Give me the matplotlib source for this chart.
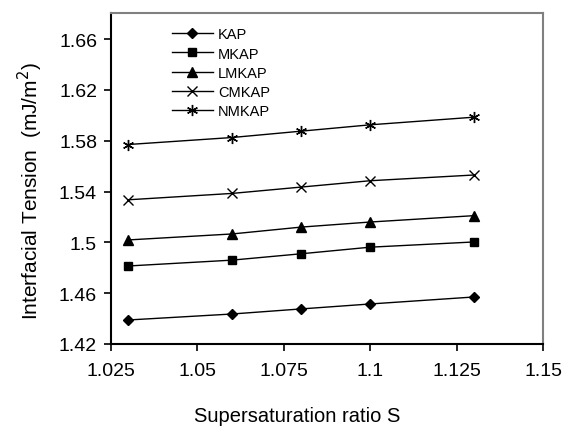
import matplotlib
matplotlib.use('Agg')
import matplotlib.pyplot as plt

plt.rcParams['font.family'] = ['Liberation Sans', 'DejaVu Sans']

# supersaturation ratio
S = [1.03, 1.06, 1.08, 1.10, 1.13]

# interfacial tension (mJ/m^2) for each crystal
kap = [1.4389, 1.4436, 1.4476, 1.4515, 1.4570]
mkap = [1.4814, 1.4860, 1.4910, 1.4962, 1.5003]
lmkap = [1.5019, 1.5066, 1.5120, 1.5160, 1.5210]
cmkap = [1.5335, 1.5385, 1.5435, 1.5485, 1.5530]
nmkap = [1.5770, 1.5825, 1.5875, 1.5925, 1.5985]

series = [
    ('KAP', kap, 'D', 5),
    ('MKAP', mkap, 's', 6),
    ('LMKAP', lmkap, '^', 7),
    ('CMKAP', cmkap, 'x', 7),
    ('NMKAP', nmkap, (6, 2, 0), 8),
]

xticks = [1.025, 1.05, 1.075, 1.1, 1.125, 1.15]
xlabels = ['1.025', '1.05', '1.075', '1.1', '1.125', '1.15']
yticks = [1.42, 1.46, 1.5, 1.54, 1.58, 1.62, 1.66]
ylabels = ['1.42', '1.46', '1.5', '1.54', '1.58', '1.62', '1.66']

fig = plt.figure(figsize=(5.63, 4.27), dpi=100)
ax = fig.add_axes([111 / 563, 1 - 345 / 427, (543 - 111) / 563, (345 - 14) / 427])

for name, vals, mk, ms in series:
    ax.plot(S, vals, color='black', lw=1.0, marker=mk, markersize=ms,
            markerfacecolor='black', markeredgecolor='black', markeredgewidth=1.0,
            label=name)

ax.set_xlim(1.025, 1.15)
ax.set_ylim(1.42, 1.6805)
ax.set_xticks(xticks)
ax.set_xticklabels(xlabels)
ax.set_yticks(yticks)
ax.set_yticklabels(ylabels)
ax.tick_params(direction='out', length=5, width=1.2, labelsize=14)
ax.tick_params(axis='x', pad=8)
ax.tick_params(axis='y', pad=5)

for side in ['left', 'bottom']:
    ax.spines[side].set_linewidth(1.5)
    ax.spines[side].set_color('black')
for side in ['top', 'right']:
    ax.spines[side].set_linewidth(1.5)
    ax.spines[side].set_color('#808080')

ax.legend(loc='upper left', bbox_to_anchor=(0.102, 1.007), frameon=False,
          fontsize=10.5, handlelength=2.8, handletextpad=0.35, labelspacing=0.35,
          borderaxespad=0.75)

fig.text(30 / 563, 1 - 191 / 427, 'Interfacial Tension  (mJ/m$^2$)',
         rotation=90, ha='center', va='center', fontsize=15)
fig.text(297 / 563, 1 - 417 / 427, 'Supersaturation ratio S',
         ha='center', va='center', fontsize=14.5)

fig.savefig('out.png', dpi=100)
